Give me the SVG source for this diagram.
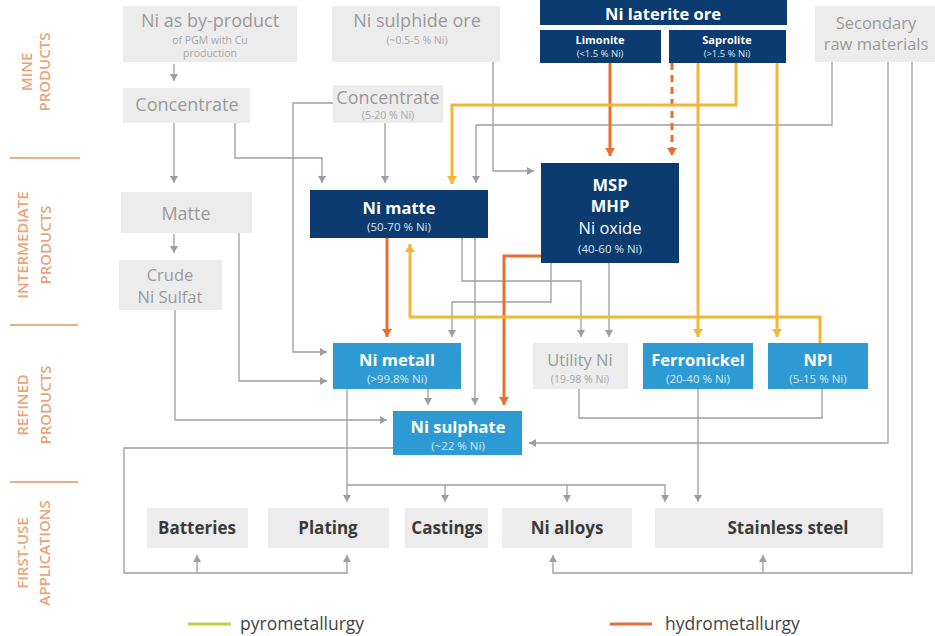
<svg xmlns="http://www.w3.org/2000/svg" width="935" height="636" viewBox="0 0 935 636">
<defs>
<style>
text{font-family:"Open Sans","Noto Sans","Liberation Sans",sans-serif;text-anchor:middle}
.lbl{fill:#e9a47a;font-size:15px;font-weight:600}
.div{stroke:#e6b08a;stroke-width:2;fill:none}
.gbox{fill:#ececec}
.dbox{fill:#0c3b6f}
.lbox{fill:#2e9ad3}
.gt{fill:#9a9a9a;font-size:18px}
.gs{fill:#a8a8a8;font-size:10.5px}
.wt{fill:#fff;font-size:16.5px;font-weight:700}
.wn{fill:#fff;font-size:16.5px}
.ws{fill:#d8e8f4;font-size:11.5px}
.sm{fill:#fff;font-size:11px;font-weight:700}
.smx{fill:#d8e8f4;font-size:9.5px}
.bt{fill:#3a3a3a;font-size:17px;font-weight:700}
.g{stroke:#9e9e9e;stroke-width:1.3;fill:none}
.o{stroke:#e8702c;stroke-width:3;fill:none}
.y{stroke:#f4b733;stroke-width:3;fill:none}
.lg{fill:#444;font-size:17.5px;text-anchor:start}
</style>
<marker id="ag" markerUnits="userSpaceOnUse" markerWidth="8" markerHeight="8" refX="7" refY="4" orient="auto"><path d="M0,0 L7,4 L0,8 z" fill="#9e9e9e"/></marker>
<marker id="ao" markerUnits="userSpaceOnUse" markerWidth="10" markerHeight="10" refX="8" refY="5" orient="auto"><path d="M0,0 L8,5 L0,10 z" fill="#e8702c"/></marker>
<marker id="ay" markerUnits="userSpaceOnUse" markerWidth="10" markerHeight="10" refX="8" refY="5" orient="auto"><path d="M0,0 L8,5 L0,10 z" fill="#f4b733"/></marker>
</defs>
<rect width="935" height="636" fill="#fff"/>

<g id="side-labels">
<text class="lbl" transform="translate(32,72) rotate(-90)">MINE</text>
<text class="lbl" transform="translate(50,72) rotate(-90)">PRODUCTS</text>
<text class="lbl" transform="translate(28,245) rotate(-90)">INTERMEDIATE</text>
<text class="lbl" transform="translate(51,245) rotate(-90)">PRODUCTS</text>
<text class="lbl" transform="translate(28,405) rotate(-90)">REFINED</text>
<text class="lbl" transform="translate(51,405) rotate(-90)">PRODUCTS</text>
<text class="lbl" transform="translate(28,553) rotate(-90)">FIRST-USE</text>
<text class="lbl" transform="translate(50,553) rotate(-90)">APPLICATIONS</text>
<path class="div" d="M10,158 H80 M10,325 H78 M10,482 H78"/>
</g>

<g id="connectors">
<path class="g" d="M174,64 V81" marker-end="url(#ag)"/>
<path class="g" d="M174,122 V183" marker-end="url(#ag)"/>
<path class="g" d="M174,234 V253" marker-end="url(#ag)"/>
<path class="g" d="M235,122 V158 H322 V183" marker-end="url(#ag)"/>
<path class="g" d="M385,123 V183" marker-end="url(#ag)"/>
<path class="g" d="M832,62 V125 H476 V183" marker-end="url(#ag)"/>
<path class="g" d="M493,62 V171 H534" marker-end="url(#ag)"/>
<path class="g" d="M333,103 H293 V352 H327" marker-end="url(#ag)"/>
<path class="g" d="M239,233 V381 H327" marker-end="url(#ag)"/>
<path class="g" d="M175,310 V420 H387" marker-end="url(#ag)"/>
<path class="g" d="M428,389 V405" marker-end="url(#ag)"/>
<path class="g" d="M475,238 V405" marker-end="url(#ag)"/>
<path class="g" d="M462,238 V281 H581 V337" marker-end="url(#ag)"/>
<path class="g" d="M551,263 V302 H452 V337" marker-end="url(#ag)"/>
<path class="g" d="M609,263 V337" marker-end="url(#ag)"/>
<path class="g" d="M888,62 V443 H529" marker-end="url(#ag)"/>
<path class="g" d="M912,62 V573 H553 V555" marker-end="url(#ag)"/>
<path class="g" d="M763,573 V555" marker-end="url(#ag)"/>
<path class="g" d="M393,448 H124 V573 H347 V555" marker-end="url(#ag)"/>
<path class="g" d="M197,573 V555" marker-end="url(#ag)"/>
<path class="g" d="M347,389 V502" marker-end="url(#ag)"/>
<path class="g" d="M347,485 H665 V502" marker-end="url(#ag)"/>
<path class="g" d="M445,485 V502" marker-end="url(#ag)"/>
<path class="g" d="M567,485 V502" marker-end="url(#ag)"/>
<path class="g" d="M698,389 V502" marker-end="url(#ag)"/>
<path class="g" d="M579,389 V418 H822 V389"/>

<path class="o" d="M610,63 V156" marker-end="url(#ao)"/>
<path class="o" d="M672,63 V156" stroke-dasharray="7,5" marker-end="url(#ao)"/>
<path class="o" d="M387,238 V337" marker-end="url(#ao)"/>
<path class="o" d="M541,256 H504 V405" marker-end="url(#ao)"/>

<path class="y" d="M736,63 V105 H452 V184" marker-end="url(#ay)"/>
<path class="y" d="M698,63 V337" marker-end="url(#ay)"/>
<path class="y" d="M777,63 V337" marker-end="url(#ay)"/>
<path class="y" d="M820,343 V317 H410 V244" marker-end="url(#ay)"/>
</g>

<g id="ni-byproduct">
<rect class="gbox" x="123" y="6" width="174" height="56"/>
<text class="gt" x="210" y="27">Ni as by-product</text>
<text class="gs" x="210" y="44">of PGM with Cu</text>
<text class="gs" x="210" y="57">production</text>
</g>
<g id="concentrate-1">
<rect class="gbox" x="123" y="88" width="127" height="35"/>
<text class="gt" x="187" y="111">Concentrate</text>
</g>
<g id="matte">
<rect class="gbox" x="121" y="192" width="131" height="41"/>
<text class="gt" x="186" y="220">Matte</text>
</g>
<g id="crude-ni-sulfat">
<rect class="gbox" x="119" y="260" width="103" height="50"/>
<text class="gt" x="170" y="281" style="font-size:16.5px">Crude</text>
<text class="gt" x="170" y="303" style="font-size:16.5px">Ni Sulfat</text>
</g>
<g id="ni-sulphide-ore">
<rect class="gbox" x="332" y="6" width="168" height="56"/>
<text class="gt" x="417" y="27">Ni sulphide ore</text>
<text class="gs" x="417" y="44">(~0.5-5 % Ni)</text>
</g>
<g id="concentrate-2">
<rect class="gbox" x="333" y="85" width="110" height="38"/>
<text class="gt" x="388" y="104">Concentrate</text>
<text class="gs" x="388" y="119">(5-20 % Ni)</text>
</g>
<g id="ni-laterite-ore">
<rect class="dbox" x="540" y="0" width="247" height="25"/>
<text class="wt" x="663" y="20">Ni laterite ore</text>
</g>
<g id="limonite">
<rect class="dbox" x="540" y="30" width="121" height="33"/>
<text class="sm" x="600" y="44">Limonite</text>
<text class="smx" x="600" y="57">(&lt;1.5 % Ni)</text>
</g>
<g id="saprolite">
<rect class="dbox" x="669" y="30" width="117" height="33"/>
<text class="sm" x="727" y="44">Saprolite</text>
<text class="smx" x="727" y="57">(&gt;1.5 % Ni)</text>
</g>
<g id="secondary-raw-materials">
<rect class="gbox" x="815" y="6" width="120" height="56"/>
<text class="gt" x="876" y="29" style="font-size:16.5px">Secondary</text>
<text class="gt" x="876" y="50" style="font-size:16.5px">raw materials</text>
</g>
<g id="ni-matte">
<rect class="dbox" x="310" y="190" width="178" height="48"/>
<text class="wt" x="399" y="214">Ni matte</text>
<text class="ws" x="399" y="231">(50-70 % Ni)</text>
</g>
<g id="msp-mhp">
<rect class="dbox" x="541" y="163" width="138" height="100"/>
<text class="wt" x="610" y="191">MSP</text>
<text class="wt" x="610" y="212">MHP</text>
<text class="wn" x="610" y="234">Ni oxide</text>
<text class="ws" x="610" y="253">(40-60 % Ni)</text>
</g>
<g id="ni-metall">
<rect class="lbox" x="333" y="343" width="128" height="46"/>
<text class="wt" x="397" y="366">Ni metall</text>
<text class="ws" x="397" y="383">(&gt;99.8% Ni)</text>
</g>
<g id="ni-sulphate">
<rect class="lbox" x="393" y="411" width="129" height="44"/>
<text class="wt" x="458" y="433">Ni sulphate</text>
<text class="ws" x="458" y="450">(~22 % Ni)</text>
</g>
<g id="utility-ni">
<rect class="gbox" x="533" y="343" width="95" height="46"/>
<text class="gt" x="580" y="366" style="font-size:16.5px">Utility Ni</text>
<text class="gs" x="580" y="383">(19-98 % Ni)</text>
</g>
<g id="ferronickel">
<rect class="lbox" x="643" y="343" width="110" height="46"/>
<text class="wt" x="698" y="366">Ferronickel</text>
<text class="ws" x="698" y="383">(20-40 % Ni)</text>
</g>
<g id="npi">
<rect class="lbox" x="768" y="343" width="100" height="46"/>
<text class="wt" x="818" y="366">NPI</text>
<text class="ws" x="818" y="383">(5-15 % Ni)</text>
</g>
<g id="batteries">
<rect class="gbox" x="147" y="508" width="101" height="40"/>
<text class="bt" x="197" y="534">Batteries</text>
</g>
<g id="plating">
<rect class="gbox" x="268" y="508" width="121" height="40"/>
<text class="bt" x="328" y="534">Plating</text>
</g>
<g id="castings">
<rect class="gbox" x="405" y="508" width="83" height="40"/>
<text class="bt" x="447" y="534">Castings</text>
</g>
<g id="ni-alloys">
<rect class="gbox" x="502" y="508" width="130" height="40"/>
<text class="bt" x="567" y="534">Ni alloys</text>
</g>
<g id="stainless-steel">
<rect class="gbox" x="655" y="508" width="228" height="40"/>
<text class="bt" x="788" y="534">Stainless steel</text>
</g>

<g id="legend">
<line x1="188" y1="624" x2="231" y2="624" stroke="#b9d24a" stroke-width="3"/>
<text class="lg" x="240" y="630">pyrometallurgy</text>
<line x1="610" y1="624" x2="652" y2="624" stroke="#e0703a" stroke-width="3"/>
<text class="lg" x="665" y="630">hydrometallurgy</text>
</g>
</svg>
